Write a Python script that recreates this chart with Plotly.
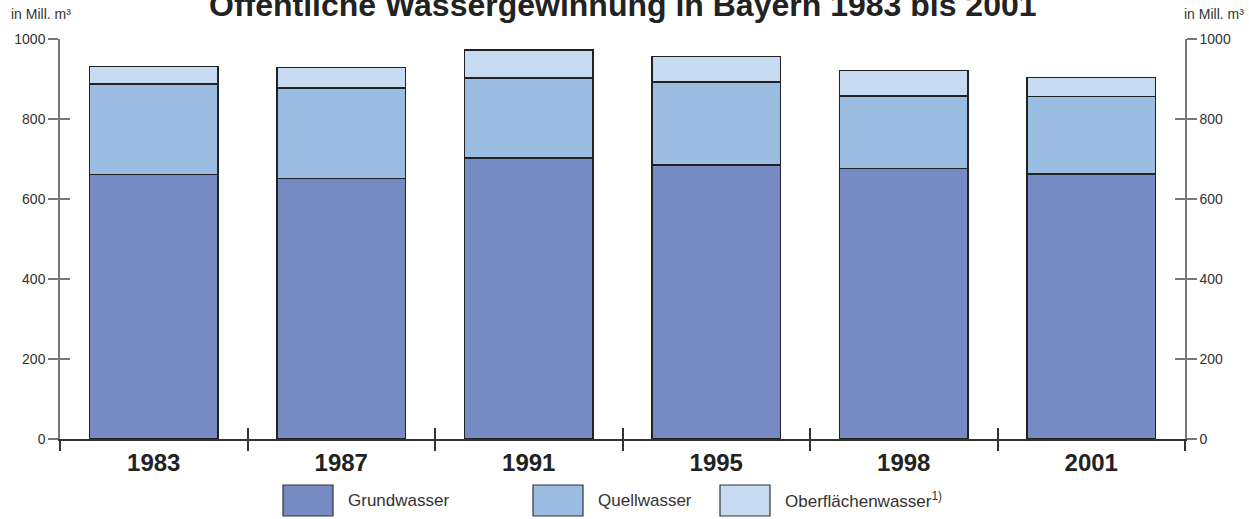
import plotly.graph_objects as go

# Öffentliche Wassergewinnung in Bayern, Mill. m³
years = ["1983", "1987", "1991", "1995", "1998", "2001"]
grundwasser = [661, 651, 703, 685, 676, 663]
quellwasser = [227, 226, 200, 207, 182, 193]
oberflaechenwasser = [43, 52, 70, 64, 63, 48]

y_ticks = [0, 200, 400, 600, 800, 1000]

series = [
    ("Grundwasser", grundwasser, "#768ac3"),
    ("Quellwasser", quellwasser, "#9bbde2"),
    ("Oberflächenwasser<sup>1)</sup>", oberflaechenwasser, "#c6dbf2"),
]

FONT = "Liberation Sans, Arial, sans-serif"
idx = list(range(len(years)))
bounds = [i - 0.5 for i in range(len(years) + 1)]

fig = go.Figure()
for name, vals, col in series:
    fig.add_trace(go.Bar(
        x=idx, y=vals, name=name, width=0.683,
        marker=dict(color=col, line=dict(color="#222222", width=1.5)),
        showlegend=False,
    ))

# invisible helper traces so the overlay axes (crossing ticks, right axis) get drawn
for xa, ya in [("x2", "y2"), ("x3", "y3"), ("x3", "y4")]:
    fig.add_trace(go.Scatter(x=[0], y=[0], xaxis=xa, yaxis=ya, mode="markers",
                             marker=dict(opacity=0), hoverinfo="skip", showlegend=False))

tickfont = dict(family=FONT, size=14, color="#333333")
fig.update_layout(
    width=1249, height=519,
    margin=dict(l=60, r=64, t=39, b=80),
    paper_bgcolor="white", plot_bgcolor="white",
    barmode="stack",
    xaxis=dict(range=[-0.5, 5.5], tickvals=idx,
               ticktext=["<b>%s</b>" % y for y in years], ticks="",
               ticklabelstandoff=1,
               tickfont=dict(family=FONT, size=24, color="#222222"),
               showline=True, linecolor="#333333", linewidth=1.5,
               showgrid=False, zeroline=False, fixedrange=True),
    xaxis2=dict(overlaying="x", matches="x", range=[-0.5, 5.5], tickvals=bounds,
                ticks="outside", ticklen=11, tickcolor="#333333", tickwidth=1.5,
                showticklabels=False, showline=False, showgrid=False, zeroline=False),
    xaxis3=dict(overlaying="x", matches="x", range=[-0.5, 5.5], tickvals=bounds,
                ticks="inside", ticklen=11, tickcolor="#333333", tickwidth=1.5,
                showticklabels=False, showline=False, showgrid=False, zeroline=False),
    yaxis=dict(range=[0, 1000], tickvals=y_ticks, ticks="outside", ticklen=10,
               tickcolor="#777777", tickwidth=1.5, tickfont=tickfont,
               showline=True, linecolor="#777777", linewidth=1.5,
               showgrid=False, zeroline=False),
    yaxis2=dict(overlaying="y", matches="y", side="right", range=[0, 1000],
                tickvals=y_ticks, ticks="outside", ticklen=10, tickcolor="#777777",
                tickwidth=1.5, tickfont=tickfont, showline=True, linecolor="#777777",
                linewidth=1.5, showgrid=False, zeroline=False),
    yaxis3=dict(overlaying="y", matches="y", side="left", range=[0, 1000],
                tickvals=y_ticks, ticks="inside", ticklen=10, tickcolor="#777777",
                tickwidth=1.5, showticklabels=False, showline=False,
                showgrid=False, zeroline=False),
    yaxis4=dict(overlaying="y", matches="y", side="right", range=[0, 1000],
                tickvals=y_ticks, ticks="inside", ticklen=10, tickcolor="#777777",
                tickwidth=1.5, showticklabels=False, showline=False,
                showgrid=False, zeroline=False),
    font=dict(family=FONT, color="#333333"),
)

# title (cut off at the top in the original)
fig.add_annotation(text="<b>Öffentliche Wassergewinnung in Bayern 1983 bis 2001</b>",
                   xref="paper", yref="paper", x=0.5, y=1, yanchor="middle",
                   yshift=34, showarrow=False,
                   font=dict(family=FONT, size=32, color="#222222"))
for xpos, anchor in [(0, "left"), (1, "right")]:
    fig.add_annotation(text="in Mill. m³", xref="paper", yref="paper",
                       x=xpos, y=1, xanchor=anchor, yanchor="middle", yshift=25,
                       xshift=-51 if xpos == 0 else 61, showarrow=False,
                       font=dict(family=FONT, size=14, color="#333333"))

# legend with large swatches
leg_x = [283, 533, 720]
for (name, vals, col), px in zip(series, leg_x):
    x0 = (px - 60) / 1125
    x1 = (px + 50 - 60) / 1125
    fig.add_shape(type="rect", xref="paper", yref="paper", x0=x0, x1=x1,
                  y0=(439 - 516) / 400, y1=(439 - 485) / 400,
                  fillcolor=col, line=dict(color="#333333", width=1.2))
    fig.add_annotation(text=name, xref="paper", yref="paper", x=x1, xshift=13,
                       y=(439 - 500) / 400, xanchor="left", yanchor="middle",
                       showarrow=False, font=dict(family=FONT, size=17, color="#333333"))

fig.write_html("out.html", config={"displayModeBar": False},
               post_script="document.body.style.margin='0';")
